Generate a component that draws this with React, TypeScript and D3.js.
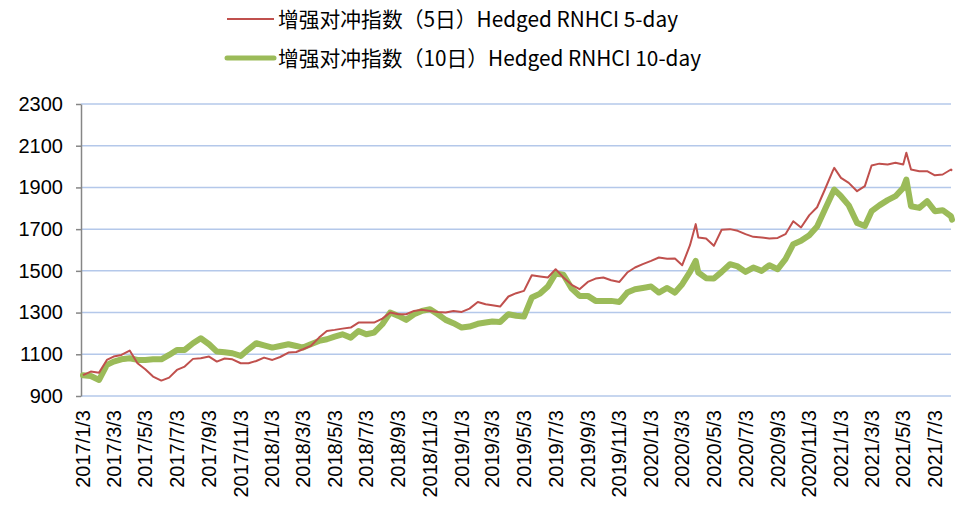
import React, { useRef, useEffect } from 'react';
import * as d3 from 'd3';

// observation dates (roughly semi-monthly, plus a few peaks)
const dates = [
  '2017-01-03', '2017-01-18', '2017-02-03', '2017-02-18', '2017-03-03', '2017-03-18', '2017-04-03', '2017-04-18',
  '2017-05-03', '2017-05-18', '2017-06-03', '2017-06-18', '2017-07-03', '2017-07-18', '2017-08-03', '2017-08-18',
  '2017-09-03', '2017-09-18', '2017-10-03', '2017-10-18', '2017-11-03', '2017-11-18', '2017-12-03', '2017-12-18',
  '2018-01-03', '2018-01-18', '2018-02-03', '2018-02-18', '2018-03-03', '2018-03-18', '2018-04-03', '2018-04-18',
  '2018-05-03', '2018-05-18', '2018-06-03', '2018-06-18', '2018-07-03', '2018-07-18', '2018-08-03', '2018-08-18',
  '2018-09-03', '2018-09-18', '2018-10-03', '2018-10-18', '2018-11-03', '2018-11-18', '2018-12-03', '2018-12-18',
  '2019-01-03', '2019-01-18', '2019-02-03', '2019-02-18', '2019-03-03', '2019-03-18', '2019-04-03', '2019-04-18',
  '2019-05-03', '2019-05-18', '2019-06-03', '2019-06-18', '2019-07-03', '2019-07-18', '2019-08-03', '2019-08-18',
  '2019-09-03', '2019-09-18', '2019-10-03', '2019-10-18', '2019-11-03', '2019-11-18', '2019-12-03', '2019-12-18',
  '2020-01-03', '2020-01-18', '2020-02-03', '2020-02-18', '2020-03-03', '2020-03-18', '2020-03-29', '2020-04-03',
  '2020-04-18', '2020-05-03', '2020-05-18', '2020-06-03', '2020-06-18', '2020-07-03', '2020-07-18', '2020-08-03',
  '2020-08-18', '2020-09-03', '2020-09-18', '2020-10-03', '2020-10-18', '2020-11-03', '2020-11-18', '2020-12-03',
  '2020-12-18', '2020-12-21', '2021-01-03', '2021-01-18', '2021-02-03', '2021-02-18', '2021-03-03', '2021-03-18',
  '2021-04-03', '2021-04-18', '2021-05-03', '2021-05-09', '2021-05-18', '2021-06-03', '2021-06-18', '2021-07-03',
  '2021-07-18', '2021-08-03', '2021-08-05',
];

// Hedged RNHCI 5-day
const fiveDay = [
  1000, 1017, 1012, 1073, 1089, 1097, 1118, 1057,
  1028, 993, 974, 988, 1025, 1041, 1078, 1081,
  1089, 1065, 1080, 1076, 1057, 1057, 1068, 1084,
  1073, 1087, 1108, 1111, 1124, 1140, 1180, 1212,
  1217, 1223, 1228, 1252, 1252, 1252, 1271, 1300,
  1292, 1292, 1308, 1313, 1308, 1303, 1300, 1308,
  1303, 1319, 1351, 1340, 1335, 1329, 1377, 1393,
  1404, 1479, 1473, 1468, 1508, 1468, 1433, 1412,
  1447, 1463, 1468, 1455, 1447, 1492, 1516, 1532,
  1548, 1564, 1558, 1559, 1527, 1623, 1724, 1660,
  1655, 1620, 1697, 1700, 1692, 1676, 1663, 1660,
  1655, 1658, 1676, 1738, 1708, 1767, 1805, 1890,
  1978, 1994, 1946, 1922, 1882, 1906, 2005, 2014,
  2010, 2018, 2010, 2066, 1986, 1978, 1978, 1958,
  1962, 1986, 1980,
];

// Hedged RNHCI 10-day
const tenDay = [
  1000, 996, 977, 1049, 1065, 1076, 1081, 1073,
  1073, 1076, 1076, 1097, 1121, 1121, 1153, 1177,
  1148, 1113, 1110, 1105, 1092, 1124, 1153, 1143,
  1132, 1140, 1148, 1140, 1132, 1148, 1164, 1172,
  1185, 1196, 1180, 1212, 1196, 1204, 1244, 1300,
  1284, 1265, 1292, 1308, 1316, 1292, 1265, 1249,
  1228, 1233, 1246, 1252, 1257, 1255, 1292, 1285,
  1281, 1372, 1391, 1425, 1487, 1481, 1415, 1380,
  1380, 1356, 1356, 1356, 1351, 1396, 1412, 1418,
  1425, 1396, 1418, 1396, 1436, 1495, 1548, 1492,
  1465, 1463, 1495, 1532, 1521, 1495, 1516, 1500,
  1527, 1508, 1556, 1628, 1644, 1671, 1713, 1794,
  1874, 1890, 1858, 1814, 1730, 1715, 1786, 1814,
  1839, 1858, 1898, 1938, 1810, 1802, 1834, 1786,
  1791, 1762, 1746,
];

const yTicks = [900, 1100, 1300, 1500, 1700, 1900, 2100, 2300];
const tickDates = d3.range(0, 28).map(i => `${2017 + Math.floor((i * 2) / 12)}-${String(((i * 2) % 12) + 1).padStart(2, '0')}-03`);

const seriesNames = ['增强对冲指数（5日）Hedged RNHCI 5-day', '增强对冲指数（10日）Hedged RNHCI 10-day'];

const App = () => {
  const ref = useRef<SVGSVGElement>(null);

  useEffect(() => {
    const svg = d3.select(ref.current);
    svg.selectAll('*').remove();

    const parse = d3.timeParse('%Y-%m-%d');
    const fmt = d3.timeFormat('%Y/%-m/%-d');

    const x = d3.scaleTime()
      .domain([parse('2017-01-03'), parse('2021-08-05')] as Date[])
      .range([83, 952]);

    const y = d3.scaleLinear().domain([900, 2300]).range([396, 104]);

    // gridlines
    svg.append('g')
      .selectAll('line')
      .data(yTicks)
      .enter()
      .append('line')
      .attr('x1', 81)
      .attr('x2', 951)
      .attr('y1', d => y(d))
      .attr('y2', d => y(d))
      .attr('stroke', '#b4c8ea')
      .attr('stroke-width', 1.5);

    // y axis
    const yAxis = svg.append('g')
      .attr('transform', 'translate(81,0)')
      .call(d3.axisLeft(y).tickValues(yTicks).tickSize(5).tickSizeOuter(0).tickFormat(d => String(d)));
    yAxis.select('.domain').attr('stroke', '#868686').attr('stroke-width', 1.5);
    yAxis.selectAll('.tick line').attr('stroke', '#868686').attr('stroke-width', 1.5);
    yAxis.selectAll('.tick text')
      .attr('x', -18)
      .attr('font-size', 20)
      .attr('font-family', 'Liberation Sans, Arial, sans-serif')
      .attr('fill', '#000');

    // x labels
    svg.append('g')
      .selectAll('text')
      .data(tickDates)
      .enter()
      .append('text')
      .attr('transform', d => `translate(${x(parse(d) as Date)},410) rotate(-90)`)
      .attr('text-anchor', 'end')
      .attr('dy', '0.35em')
      .attr('font-size', 20)
      .attr('font-family', 'Liberation Sans, Arial, sans-serif')
      .text(d => fmt(parse(d) as Date));

    const line = d3.line<number>()
      .x((_, i) => x(parse(dates[i]) as Date))
      .y(d => y(d));

    svg.append('path')
      .datum(tenDay)
      .attr('d', line)
      .attr('fill', 'none')
      .attr('stroke', '#9bbb59')
      .attr('stroke-width', 6)
      .attr('stroke-linejoin', 'round')
      .attr('stroke-linecap', 'round');

    svg.append('path')
      .datum(fiveDay)
      .attr('d', line)
      .attr('fill', 'none')
      .attr('stroke', '#c0504d')
      .attr('stroke-width', 2)
      .attr('stroke-linejoin', 'round');

    // legend
    const legend = svg.append('g');
    const colors = ['#c0504d', '#9bbb59'];
    const widths = [2, 5];
    const textLen = [400, 423];
    seriesNames.forEach((name, i) => {
      const cy = 19 + i * 39;
      legend.append('line')
        .attr('x1', 227)
        .attr('x2', 274)
        .attr('y1', cy)
        .attr('y2', cy)
        .attr('stroke', colors[i])
        .attr('stroke-width', widths[i])
        .attr('stroke-linecap', i === 1 ? 'round' : 'butt');
      legend.append('text')
        .attr('x', 278)
        .attr('y', cy + 8)
        .attr('font-size', 21)
        .attr('font-family', 'Noto Sans CJK SC, sans-serif')
        .attr('textLength', textLen[i])
        .attr('lengthAdjust', 'spacingAndGlyphs')
        .text(name);
    });
  }, []);

  return (
    <svg ref={ref} width={957} height={507} style={{ position: 'absolute', left: 0, top: 0, background: '#fff' }} />
  );
};

export default App;
